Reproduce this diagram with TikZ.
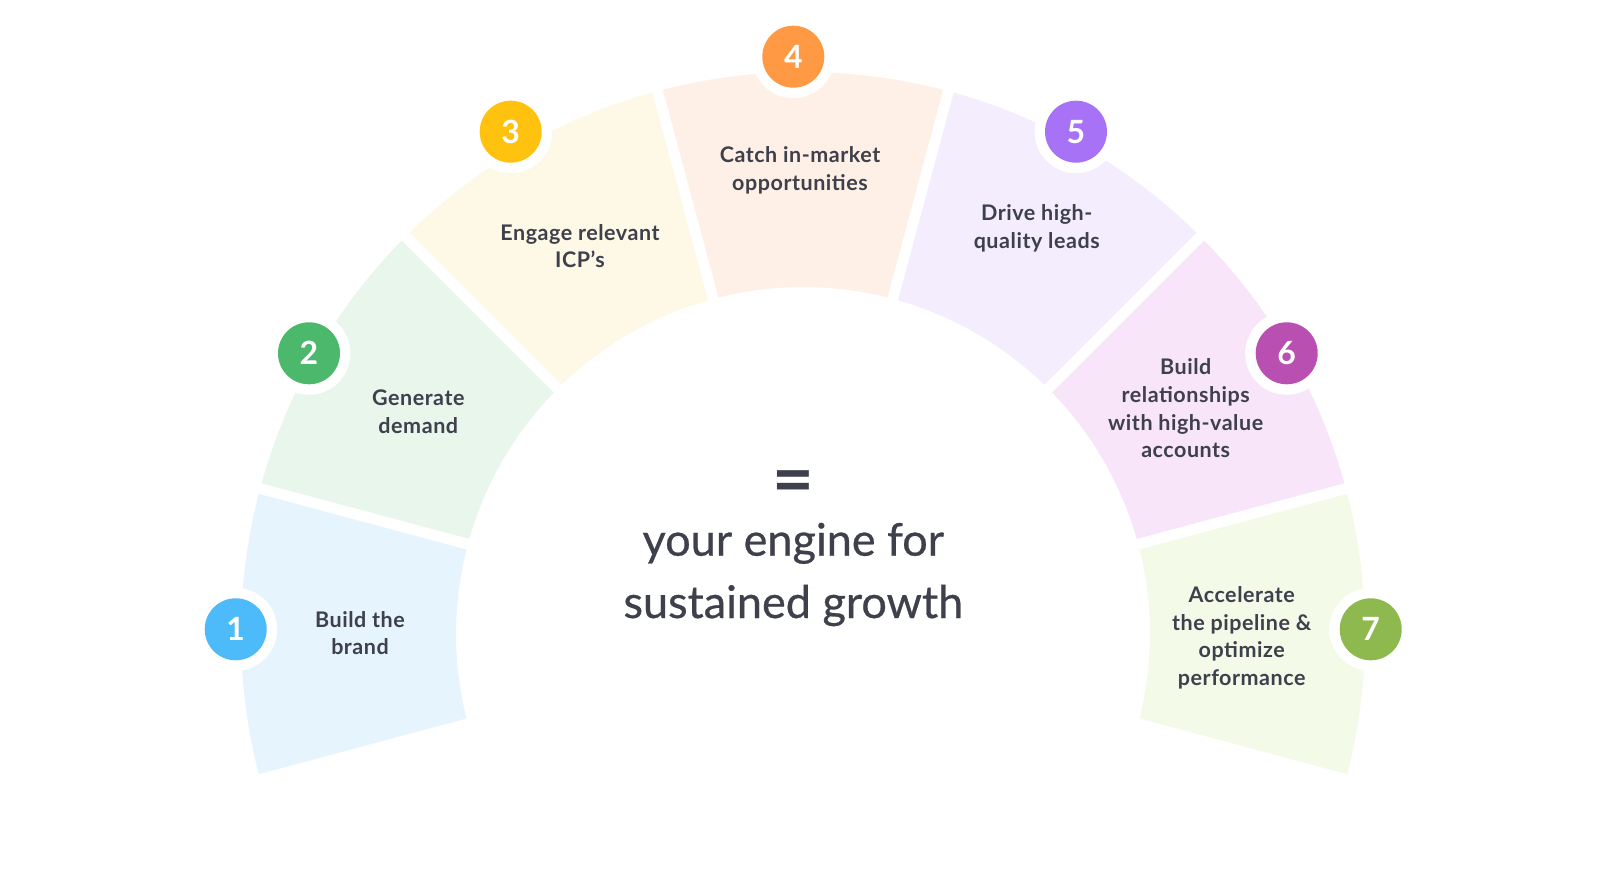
\documentclass[tikz,border=0pt]{standalone}
\usepackage{fontspec}
\setmainfont{Lato}
\definecolor{txt}{HTML}{3E404C}
\definecolor{c1}{HTML}{4DBBF9}\definecolor{s1}{HTML}{E5F4FD}
\definecolor{c2}{HTML}{4CB86B}\definecolor{s2}{HTML}{E9F6EC}
\definecolor{c3}{HTML}{FFC20E}\definecolor{s3}{HTML}{FEF8E7}
\definecolor{c4}{HTML}{FF9944}\definecolor{s4}{HTML}{FEF0E7}
\definecolor{c5}{HTML}{A872F7}\definecolor{s5}{HTML}{F3EDFD}
\definecolor{c6}{HTML}{B94FB0}\definecolor{s6}{HTML}{F8E5F9}
\definecolor{c7}{HTML}{8DB94F}\definecolor{s7}{HTML}{F3FAE7}
\begin{document}
\begin{tikzpicture}[x=1pt,y=1pt,
  lbl/.style={text=txt, font=\bfseries\fontsize{21.5}{27.7}\selectfont\addfontfeatures{LetterSpace=2.5}, align=center, inner sep=0pt},
  numc/.style={circle, minimum size=62pt, inner sep=0pt, text=white, font=\bfseries\fontsize{32}{32}\selectfont},
  ring/.style={circle, fill=white, minimum size=83pt, inner sep=0pt},
  big/.style={text=txt, font=\fontsize{45}{63}\selectfont\addfontfeatures{FakeBold=0.6}, inner sep=0pt}
]
\useasboundingbox (0,0) rectangle (1600,879);
\fill[white] (0,0) rectangle (1600,879);
\coordinate (C) at (803,245);
\def\Ro{562}\def\Ri{347}\def\ao{0.561}\def\ai{0.908}
\foreach \a/\c in {165/s1,135/s2,105/s3,75/s4,45/s5,15/s6,-15/s7}{
  \fill[\c, shift={(C)}] ({\a+\ao}:\Ro pt) arc[start angle={\a+\ao}, end angle={\a+30-\ao}, radius=\Ro pt]
    -- ({\a+30-\ai}:\Ri pt) arc[start angle={\a+30-\ai}, end angle={\a+\ai}, radius=\Ri pt] -- cycle;
}
\foreach \i/\x/\y in {1/235.7/249.7, 2/309/525.7, 3/510.7/747.3, 4/793.3/822.3, 5/1076/747.3, 6/1286.7/525.7, 7/1370.7/249.7}{
  \node[ring] (r\i) at (\x,\y) {};
  \node[numc, fill=c\i] (n\i) at (\x,\y) {\i};
}
\node[lbl] (l1) at (360,246) {Build the\\brand};
\node[lbl] (l2) at (418.3,467) {Generate\\demand};
\node[lbl] (l3) at (580,633) {Engage relevant\\ICP’s};
\node[lbl] (l4) at (800,708.7) {Catch in-market\\opportunities};
\node[lbl] (l5) at (1036.7,650.5) {Drive high-\\quality leads};
\node[lbl] (l6) at (1185.7,470.7) {Build\\relationships\\with high-value\\accounts};
\node[lbl] (l7) at (1241.7,241.3) {Accelerate\\the pipeline \&\\optimize\\performance};
\node[text=txt, font=\bfseries\fontsize{72}{72}\selectfont, inner sep=0pt] (eq) at (793.3,391.7) {=};
\node[big, anchor=base] (t1) at (793.3,323.3) {your engine for};
\node[big, anchor=base] (t2) at (793.3,261) {sustained growth};
\end{tikzpicture}
\end{document}
